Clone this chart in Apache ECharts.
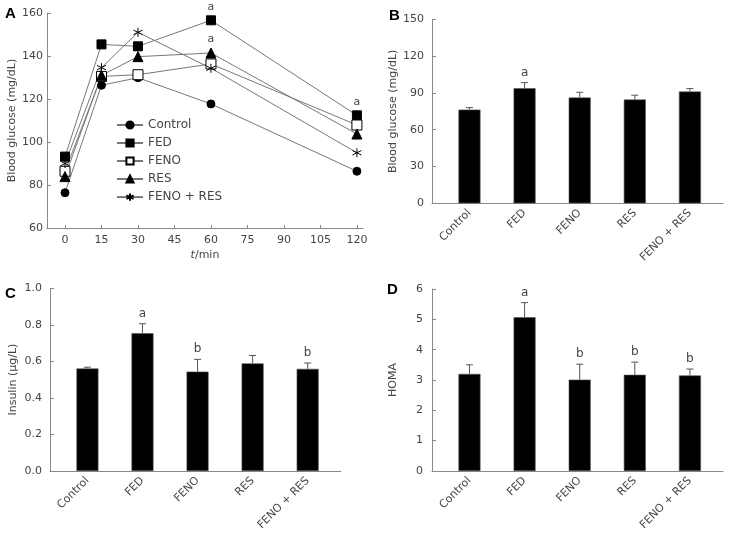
<!DOCTYPE html>
<html>
<head>
<meta charset="utf-8">
<script src="https://cdn.jsdelivr.net/npm/echarts@6/dist/echarts.min.js"></script>
<style>html,body{margin:0;padding:0;background:#fff}#c{width:730px;height:533px}</style>
</head>
<body>
<div id="c"></div>
<script>
// ---- Panel A data ----
var timesA = [0, 15, 30, 60, 120];
var xTicksA = [0, 15, 30, 45, 60, 75, 90, 105, 120];
var controlA = [76.4, 126.4, 129.9, 117.7, 86.4];
var fedA = [93.2, 145.4, 144.5, 156.6, 112.4];
var fenoA = [86.4, 130.5, 131.3, 136.3, 107.9];
var resA = [83.9, 131.0, 139.7, 141.4, 103.7];
var fenoResA = [90.0, 134.6, 151.0, 134.3, 95.0];
var annFedA = ['', '', '', 'a', 'a'];
var annResA = ['', '', '', 'a', ''];

// ---- Bar panels ----
var groups = ['Control', 'FED', 'FENO', 'RES', 'FENO + RES'];
var glucoseB = [76.4, 93.8, 86.2, 84.6, 91.1];
var glucoseErrB = [1.6, 4.6, 4.3, 3.5, 2.4];
var annB = ['', 'a', '', '', ''];
var insulinC = [0.561, 0.754, 0.544, 0.589, 0.559];
var insulinErrC = [0.007, 0.052, 0.067, 0.043, 0.032];
var annC = ['', 'a', 'b', '', 'b'];
var homaD = [3.20, 5.07, 3.01, 3.17, 3.15];
var homaErrD = [0.30, 0.48, 0.51, 0.42, 0.21];
var annD = ['', 'a', 'b', 'b', 'b'];

var FONT = 'DejaVu Sans';
var TXT = '#444';
var AXC = '#888';

function ptsA(vals, ann) {
  return timesA.map(function (t, i) {
    var d = { value: [t, vals[i]] };
    if (ann && ann[i]) {
      d.label = { show: true, formatter: ann[i], position: 'top', distance: 3, color: TXT, fontFamily: FONT, fontSize: 11 };
    }
    return d;
  });
}

var star = 'path://M5,0 L5,10 M0.67,2.5 L9.33,7.5 M0.67,7.5 L9.33,2.5';

function lineSeries(name, vals, ann, symbol, size, fill) {
  return {
    type: 'line', name: name, xAxisIndex: 0, yAxisIndex: 0,
    data: ptsA(vals, ann), symbol: symbol, symbolSize: size,
    lineStyle: { color: '#777', width: 1 },
    itemStyle: { color: fill, borderColor: '#000', borderWidth: 1 },
    emphasis: { disabled: true }, animation: false, z: 3
  };
}

function valAxisY(gi, min, max, interval, name, gap, margin, fmt) {
  return {
    type: 'value', gridIndex: gi, min: min, max: max, interval: interval,
    name: name, nameLocation: 'middle', nameGap: gap,
    nameTextStyle: { color: TXT, fontFamily: FONT, fontSize: 11 },
    axisLine: { show: true, onZero: false, lineStyle: { color: AXC } },
    axisTick: { show: true, inside: true, length: 4, lineStyle: { color: AXC } },
    axisLabel: { color: TXT, fontFamily: FONT, fontSize: 11, margin: margin, formatter: fmt },
    splitLine: { show: false }
  };
}

function catAxisX(gi) {
  return {
    type: 'value', gridIndex: gi, min: -0.68, max: 4.6,
    axisLine: { show: true, onZero: false, lineStyle: { color: AXC } },
    axisTick: { show: false },
    axisLabel: {
      customValues: groups.map(function (g, i) { return i; }),
      formatter: function (v) { return groups[Math.round(v)]; },
      rotate: 45, margin: 8, color: TXT, fontFamily: FONT, fontSize: 11,
      showMinLabel: true, showMaxLabel: true
    },
    splitLine: { show: false }
  };
}

function barSeries(gi, vals) {
  return {
    type: 'bar', xAxisIndex: gi, yAxisIndex: gi, barWidth: 22,
    data: vals.map(function (v, i) { return [i, v]; }),
    itemStyle: { color: '#000', borderColor: '#555', borderWidth: 0.6 },
    emphasis: { disabled: true }, animation: false, z: 2
  };
}

function errSeries(gi, vals, errs, ann) {
  return {
    type: 'custom', xAxisIndex: gi, yAxisIndex: gi, animation: false, z: 4,
    data: vals.map(function (v, i) { return [i, v, errs[i], i]; }),
    renderItem: function (params, api) {
      var i = api.value(3);
      var v = api.value(1), e = api.value(2);
      var p0 = api.coord([api.value(0), v]);
      var p1 = api.coord([api.value(0), v + e]);
      var children = [
        { type: 'line', shape: { x1: p0[0], y1: p0[1], x2: p1[0], y2: p1[1] }, style: { stroke: '#555', lineWidth: 1 } },
        { type: 'line', shape: { x1: p1[0] - 3.5, y1: p1[1], x2: p1[0] + 3.5, y2: p1[1] }, style: { stroke: '#555', lineWidth: 1 } }
      ];
      if (ann[i]) {
        children.push({ type: 'text', style: { text: ann[i], x: p1[0], y: p1[1] - 4, align: 'center', verticalAlign: 'bottom', fill: TXT, font: '12px ' + FONT } });
      }
      return { type: 'group', children: children };
    }
  };
}

var titleStyle = { fontSize: 15, fontWeight: 'bold', color: '#000', fontFamily: 'Liberation Sans' };

var option = {
  backgroundColor: '#fff',
  animation: false,
  title: [
    { text: 'A', left: 5, top: 6, textStyle: titleStyle, padding: 0 },
    { text: 'B', left: 389, top: 8, textStyle: titleStyle, padding: 0 },
    { text: 'C', left: 5, top: 286, textStyle: titleStyle, padding: 0 },
    { text: 'D', left: 387, top: 282, textStyle: titleStyle, padding: 0 }
  ],
  legend: {
    data: ['Control', 'FED', 'FENO', 'RES', 'FENO + RES'],
    orient: 'vertical', left: 111, top: 114, itemWidth: 26, itemHeight: 9, itemGap: 6,
    textStyle: { color: TXT, fontFamily: FONT, fontSize: 12 }, selectedMode: false
  },
  grid: [
    { left: 47, top: 13, width: 316, height: 215 },
    { left: 432, top: 19.3, width: 291, height: 184 },
    { left: 50, top: 288.3, width: 290.7, height: 184.4 },
    { left: 432, top: 289, width: 291, height: 183.3 }
  ],
  xAxis: [
    {
      type: 'value', gridIndex: 0, min: -7.4, max: 122.5,
      name: '{i|t}/min', nameLocation: 'middle', nameGap: 22,
      nameTextStyle: { color: TXT, fontFamily: FONT, fontSize: 11, rich: { i: { fontStyle: 'italic', fontFamily: FONT, fontSize: 11, color: TXT } } },
      axisLine: { show: true, onZero: false, lineStyle: { color: AXC } },
      axisTick: { show: true, inside: true, length: 3, customValues: xTicksA, lineStyle: { color: AXC } },
      axisLabel: { customValues: xTicksA, color: TXT, fontFamily: FONT, fontSize: 11, margin: 7 },
      splitLine: { show: false }
    },
    catAxisX(1), catAxisX(2), catAxisX(3)
  ],
  yAxis: [
    valAxisY(0, 60, 160, 20, 'Blood glucose (mg/dL)', 28, 4),
    valAxisY(1, 0, 150, 30, 'Blood glucose (mg/dL)', 31, 8),
    valAxisY(2, 0, 1, 0.2, 'Insulin (\u03bcg/L)', 31, 8, function (v) { return v.toFixed(1); }),
    valAxisY(3, 0, 6, 1, 'HOMA', 33, 9)
  ],
  series: [
    lineSeries('Control', controlA, null, 'circle', 8, '#000'),
    lineSeries('FED', fedA, annFedA, 'rect', 9, '#000'),
    lineSeries('FENO', fenoA, null, 'rect', 10, '#fff'),
    lineSeries('RES', resA, annResA, 'triangle', 10, '#000'),
    lineSeries('FENO + RES', fenoResA, null, star, 9, 'none'),
    barSeries(1, glucoseB), errSeries(1, glucoseB, glucoseErrB, annB),
    barSeries(2, insulinC), errSeries(2, insulinC, insulinErrC, annC),
    barSeries(3, homaD), errSeries(3, homaD, homaErrD, annD)
  ]
};

var chart = echarts.init(document.getElementById('c'), null, { renderer: 'canvas' });
chart.setOption(option);
</script>
</body>
</html>
